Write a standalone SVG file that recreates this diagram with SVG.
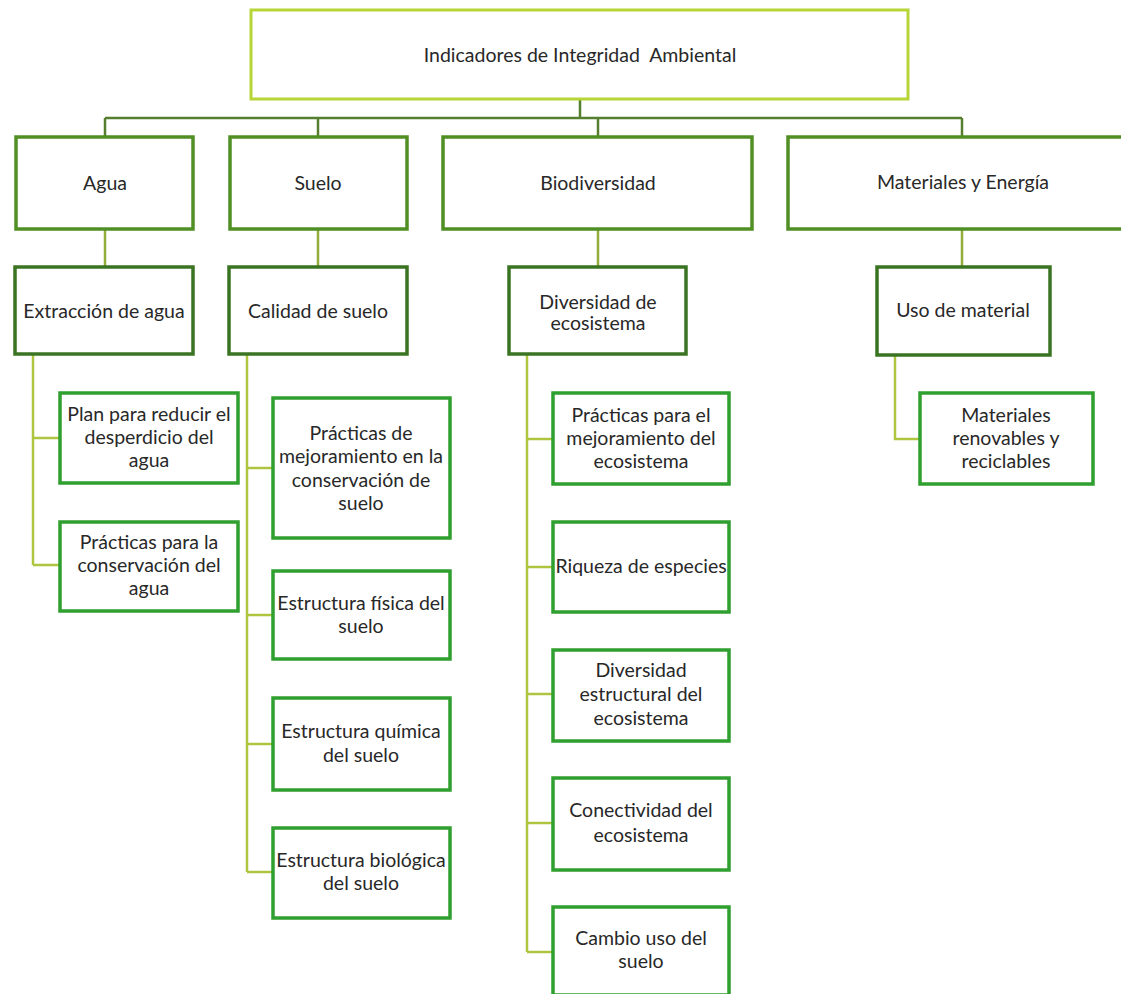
<svg xmlns="http://www.w3.org/2000/svg" width="1121" height="994" viewBox="0 0 1121 994">
<style>
text{font-family:Lato,"Liberation Sans",sans-serif;font-size:19.5px;fill:#282828;text-anchor:middle}
rect{fill:#fff}
.top{stroke:#b6d536;stroke-width:3}
.l1{stroke:#4f8f24;stroke-width:3.5}
.l2{stroke:#3a7422;stroke-width:3.5}
.l3{stroke:#2f9f2f;stroke-width:3.5}
.c0{stroke:#557f2e;stroke-width:2.5;fill:none}
.c1{stroke:#93ad3a;stroke-width:2.5;fill:none}
.c2{stroke:#aec63f;stroke-width:2.5;fill:none}
</style>
<rect width="1121" height="994" fill="#fff"/>
<g id="connectors">
<path class="c0" d="M580 99V118M105 118H962M105 118V137M318 118V137M598 118V137M962 118V137"/>
<path class="c1" d="M105 229V267M318 229V267M598 229V267M962 229V267"/>
<path class="c2" d="M33 354V565M33 438H60M33 565H60"/>
<path class="c2" d="M247 354V872M247 468H273M247 615H273M247 744H273M247 872H273"/>
<path class="c2" d="M527 354V952M527 439H553M527 567H560M527 694H553M527 823H553M527 952H553"/>
<path class="c2" d="M895 355V439H920"/>
</g>
<g id="n-root"><rect class="top" x="251" y="10" width="657" height="89"/><text x="580" y="62" xml:space="preserve">Indicadores de Integridad  Ambiental</text></g>
<g id="n-agua"><rect class="l1" x="16" y="137" width="177" height="92"/><text x="105" y="190">Agua</text></g>
<g id="n-suelo"><rect class="l1" x="230" y="137" width="177" height="92"/><text x="318" y="190">Suelo</text></g>
<g id="n-bio"><rect class="l1" x="443" y="137" width="309" height="92"/><text x="598" y="190">Biodiversidad</text></g>
<g id="n-mat"><rect class="l1" x="788" y="137" width="350" height="92"/><text x="963" y="189">Materiales y Energía</text></g>
<g id="n-extr"><rect class="l2" x="15" y="267" width="178" height="87"/><text x="104" y="318">Extracción de agua</text></g>
<g id="n-cal"><rect class="l2" x="229" y="267" width="178" height="87"/><text x="318" y="318">Calidad de suelo</text></g>
<g id="n-div"><rect class="l2" x="509" y="267" width="177" height="87"/><text x="598" y="309">Diversidad de</text><text x="598" y="330">ecosistema</text></g>
<g id="n-uso"><rect class="l2" x="877" y="267" width="173" height="88"/><text x="963" y="317">Uso de material</text></g>
<g id="n-plan"><rect class="l3" x="60" y="393" width="178" height="90"/><text x="149" y="421">Plan para reducir el</text><text x="149" y="444">desperdicio del</text><text x="149" y="467">agua</text></g>
<g id="n-pcagua"><rect class="l3" x="60" y="522" width="178" height="89"/><text x="149" y="549">Prácticas para la</text><text x="149" y="572">conservación del</text><text x="149" y="595">agua</text></g>
<g id="n-pms"><rect class="l3" x="273" y="398" width="177" height="140"/><text x="361" y="440">Prácticas de</text><text x="361" y="463">mejoramiento en la</text><text x="361" y="487">conservación de</text><text x="361" y="510">suelo</text></g>
<g id="n-efis"><rect class="l3" x="273" y="571" width="177" height="88"/><text x="361" y="610">Estructura física del</text><text x="361" y="633">suelo</text></g>
<g id="n-equi"><rect class="l3" x="273" y="698" width="177" height="92"/><text x="361" y="738">Estructura química</text><text x="361" y="762">del suelo</text></g>
<g id="n-ebio"><rect class="l3" x="273" y="828" width="177" height="90"/><text x="361" y="867">Estructura biológica</text><text x="361" y="890">del suelo</text></g>
<g id="n-pme"><rect class="l3" x="553" y="393" width="176" height="91"/><text x="641" y="422">Prácticas para el</text><text x="641" y="445">mejoramiento del</text><text x="641" y="468">ecosistema</text></g>
<g id="n-riq"><rect class="l3" x="553" y="522" width="176" height="90"/><text x="641" y="573">Riqueza de especies</text></g>
<g id="n-dest"><rect class="l3" x="553" y="650" width="176" height="91"/><text x="641" y="677">Diversidad</text><text x="641" y="701">estructural del</text><text x="641" y="725">ecosistema</text></g>
<g id="n-con"><rect class="l3" x="553" y="778" width="176" height="92"/><text x="641" y="817">Conectividad del</text><text x="641" y="842">ecosistema</text></g>
<g id="n-cam"><rect class="l3" x="553" y="907" width="176" height="88"/><text x="641" y="945">Cambio uso del</text><text x="641" y="968">suelo</text></g>
<g id="n-ren"><rect class="l3" x="920" y="393" width="173" height="91"/><text x="1006" y="422">Materiales</text><text x="1006" y="445">renovables y</text><text x="1006" y="468">reciclables</text></g>
</svg>
